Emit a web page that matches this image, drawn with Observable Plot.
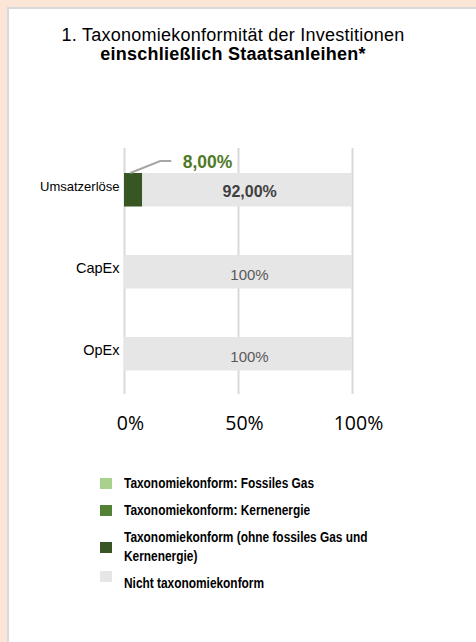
<!DOCTYPE html>
<html>
<head>
<meta charset="utf-8">
<script src="https://cdn.jsdelivr.net/npm/d3@7"></script>
<script src="https://cdn.jsdelivr.net/npm/@observablehq/plot@0.6"></script>
<style>
  html, body { margin: 0; padding: 0; }
  body { width: 476px; height: 642px; background: #fbe5d6; position: relative; overflow: hidden; font-family: "Liberation Sans", Arial, sans-serif; }
  #card { position: absolute; left: 7px; top: 7px; width: 480px; height: 650px; background: #fff; border-left: 2px solid #d9d9d9; border-top: 2px solid #d9d9d9; }
  #title { position: absolute; left: 0; top: 26px; width: 466px; text-align: center; font-size: 18px; line-height: 19px; letter-spacing: 0.25px; color: #000; }
  #title b { font-weight: bold; }
  #chart { position: absolute; left: 0; top: 100px; }
  #legend { position: absolute; left: 100px; top: 474px; width: 360px; display: flex; flex-direction: column; gap: 8px; }
  .item { display: flex; align-items: center; font-family: "Liberation Sans", Arial, sans-serif; font-weight: bold; font-size: 14.5px; line-height: 19px; color: #000; }
  .sw { width: 12px; height: 11px; flex: none; margin-right: 12px; }
  .txt { width: 305px; transform: scaleX(0.82); transform-origin: 0 50%; }
  .item.last .sw { position: relative; top: -7px; }
</style>
</head>
<body>
<div id="card"></div>
<div id="title">1. Taxonomiekonformität der Investitionen<br><b>einschließlich Staatsanleihen*</b></div>
<div id="chart"></div>
<div id="legend"></div>
<script>
// ---- data ----
const categories = ["Umsatzerlöse", "CapEx", "OpEx"];
const seriesNames = [
  "Taxonomiekonform: Fossiles Gas",
  "Taxonomiekonform: Kernenergie",
  "Taxonomiekonform (ohne fossiles Gas und Kernenergie)",
  "Nicht taxonomiekonform"
];
const seriesColors = ["#a9d18e", "#548235", "#375623", "#e7e6e6"];
const fossilGas = [0, 0, 0];
const nuclear = [0, 0, 0];
const aligned = [8, 0, 0];
const notAligned = [92, 100, 100];
const alignedLabels = ["8,00%", "", ""];
const notAlignedLabels = ["92,00%", "100%", "100%"];
const xTicks = [0, 50, 100];

// ---- table ----
const seriesValues = [fossilGas, nuclear, aligned, notAligned];
const rows = [];
categories.forEach((c, i) => {
  seriesNames.forEach((s, j) => {
    if (seriesValues[j][i] > 0) rows.push({category: c, series: s, value: seriesValues[j][i]});
  });
});
const notRows = categories.map((c, i) => ({category: c, start: aligned[i] + nuclear[i] + fossilGas[i], value: notAligned[i], label: notAlignedLabels[i], idx: i}));
const alignedRows = categories.map((c, i) => ({category: c, value: aligned[i], label: alignedLabels[i]})).filter(d => d.value > 0);

const leader = (index, scales) => {
  const g = d3.create("svg:g");
  alignedRows.forEach(d => {
    const xe = scales.x(d.value);
    const cy = scales.y(d.category) + scales.y.bandwidth() / 2;
    g.append("path")
      .attr("d", `M${xe - 12},${cy - 16}L${xe + 18},${cy - 28}L${xe + 29},${cy - 28}`)
      .attr("fill", "none").attr("stroke", "#a6a6a6").attr("stroke-width", 2);
  });
  return g.node();
};

const chart = Plot.plot({
  width: 476,
  height: 340,
  marginTop: 48,
  marginBottom: 46,
  marginLeft: 124,
  marginRight: 124,
  style: {background: "transparent", fontFamily: "'Liberation Sans', Arial, sans-serif", overflow: "visible"},
  x: {domain: [0, 100], axis: null},
  y: {domain: categories, padding: 0, axis: null},
  color: {domain: seriesNames, range: seriesColors},
  marks: [
    Plot.ruleX(xTicks, {stroke: "#d9d9d9", strokeWidth: 2}),
    Plot.barX(rows, Plot.stackX({x: "value", y: "category", fill: "series", order: seriesNames, insetTop: 25, insetBottom: 23.5})),
    Plot.axisX({ticks: xTicks, tickFormat: d => `${d}%`, tickSize: 0, tickPadding: 22, fontSize: 19.5, fontFamily: "'Open Sans', sans-serif", fill: "#000", dx: 6, label: null}),
    Plot.text(categories, {x: 0, y: d => d, text: d => d, textAnchor: "end", dx: -5, dy: -3, fill: "#000",
      fontSize: d => (d === "Umsatzerlöse" ? 13 : 14.5)}),
    Plot.text(notRows.filter(d => d.idx === 0), {x: d => d.start + d.value / 2, y: "category", text: "label", fontWeight: "bold", fontSize: 16, fill: "#404040", dy: 2, dx: 2}),
    Plot.text(notRows.filter(d => d.idx > 0), {x: d => d.start + d.value / 2, y: "category", text: "label", fontSize: 15, fill: "#595959", dy: 4, dx: 11}),
    leader,
    Plot.text(alignedRows, {x: "value", y: "category", text: "label", textAnchor: "start", dx: 40, dy: -27, fontWeight: "bold", fontSize: 17.5, fill: "#4f7a28"})
  ]
});
document.getElementById("chart").appendChild(chart);

// ---- legend ----
const legend = d3.select("#legend");
seriesNames.forEach((s, i) => {
  const it = legend.append("div").attr("class", "item" + (i === seriesNames.length - 1 ? " last" : ""));
  it.append("div").attr("class", "sw").style("background", seriesColors[i]);
  it.append("div").attr("class", "txt").text(s);
});
</script>
</body>
</html>
